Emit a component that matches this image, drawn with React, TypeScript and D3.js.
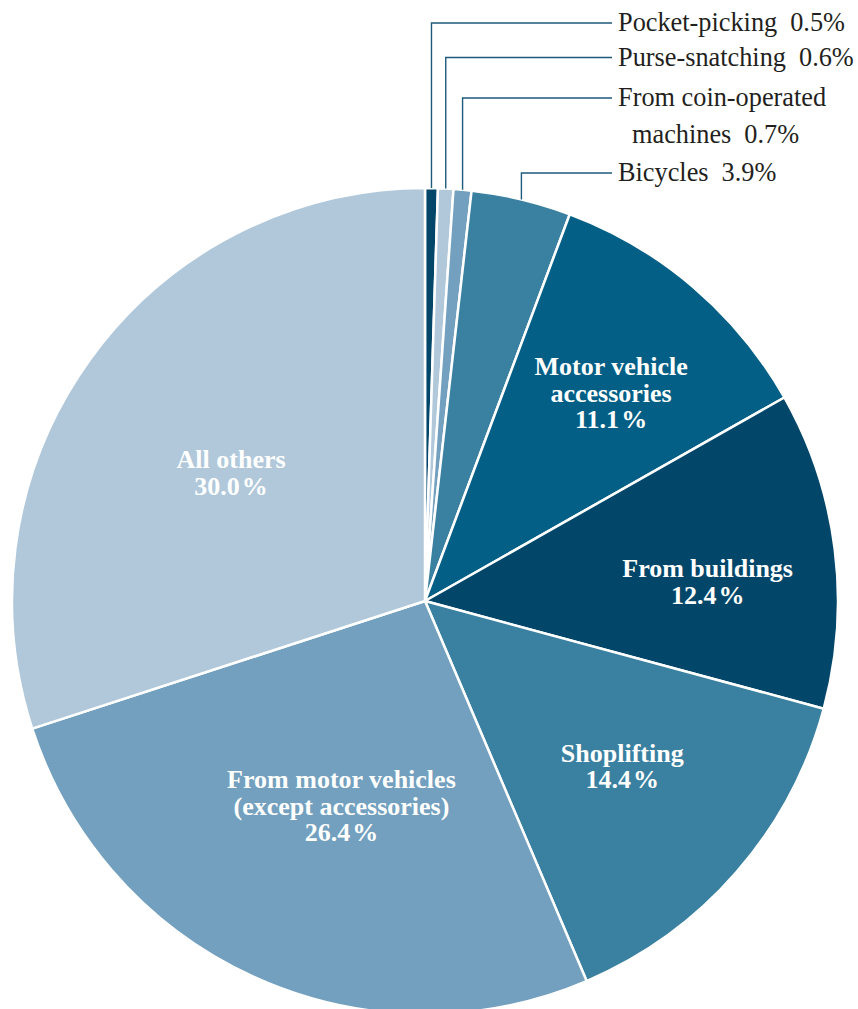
import React from "react";
import * as d3 from "d3";

const categories = [
  "Pocket-picking",
  "Purse-snatching",
  "From coin-operated machines",
  "Bicycles",
  "Motor vehicle accessories",
  "From buildings",
  "Shoplifting",
  "From motor vehicles (except accessories)",
  "All others",
];
const values = [0.5, 0.6, 0.7, 3.9, 11.1, 12.4, 14.4, 26.4, 30.0];
const colors = ["#02476a", "#b0c8da", "#72a0be", "#3a80a0", "#035f85", "#02476a", "#3a80a0", "#72a0be", "#b0c8da"];

// outside labels (small slices): text lines
const outsideLines: Record<number, string[]> = {
  0: ["Pocket-picking"],
  1: ["Purse-snatching"],
  2: ["From coin-operated", "machines"],
  3: ["Bicycles"],
};
// inside labels: text lines
const insideLines: Record<number, string[]> = {
  4: ["Motor vehicle", "accessories"],
  5: ["From buildings"],
  6: ["Shoplifting"],
  7: ["From motor vehicles", "(except accessories)"],
  8: ["All others"],
};
// label placement (layout config)
const insideRadiusFrac: Record<number, number> = { 4: 0.676, 5: 0.686, 6: 0.623, 7: 0.536, 8: 0.563 };
const insideAngleShiftDeg: Record<number, number> = { 4: 1.3, 5: 3.2, 6: -1.1, 7: -2.3, 8: -2.5 };
const outsideLabelY: Record<number, number> = { 0: 23, 1: 57.5, 2: 98, 3: 173 };

const W = 858;
const H = 1009;
const cx = 425;
const cy = 601;
const R = 413;
const lineEndX = 612;
const textX = 618;
const font = "'Liberation Serif', 'Times New Roman', serif";

export default function App() {
  const pie = d3.pie<number>().sort(null).value((d) => d).startAngle(0).endAngle(2 * Math.PI);
  const arcs = pie(values);
  const arcGen = d3.arc<d3.PieArcDatum<number>>().innerRadius(0).outerRadius(R);
  const fmt = (v: number) => v.toFixed(1);

  return (
    <div style={{ position: "absolute", left: 0, top: 0 }}>
      <svg width={W} height={H} style={{ display: "block", background: "#fff" }}>
        <g transform={`translate(${cx},${cy})`}>
          {arcs.map((a, i) => (
            <path key={i} d={arcGen(a) || ""} fill={colors[i]} stroke="#fff" strokeWidth={2.5} strokeLinejoin="round" />
          ))}
          {arcs.map((a, i) => {
            const lines = insideLines[i];
            if (!lines) return null;
            const mid = (a.startAngle + a.endAngle) / 2 + (insideAngleShiftDeg[i] * Math.PI) / 180;
            const r = R * insideRadiusFrac[i];
            const x = r * Math.sin(mid);
            const y = -r * Math.cos(mid);
            const lh = 26.5;
            const n = lines.length + 1;
            const y0 = y - ((n - 1) * lh) / 2 + 9;
            return (
              <text key={"t" + i} textAnchor="middle" fill="#fff" fontFamily={font} fontWeight="bold" fontSize={26}>
                {lines.map((l, j) => (
                  <tspan key={j} x={x} y={y0 + j * lh}>
                    {l}
                  </tspan>
                ))}
                <tspan x={x} y={y0 + lines.length * lh}>
                  {fmt(values[i])}
                  <tspan dx={2}>%</tspan>
                </tspan>
              </text>
            );
          })}
        </g>
        {arcs.map((a, i) => {
          const lines = outsideLines[i];
          if (!lines) return null;
          const mid = (a.startAngle + a.endAngle) / 2;
          const px = cx + R * Math.sin(mid);
          const py = cy - R * Math.cos(mid);
          const ly = outsideLabelY[i];
          const pct = `${fmt(values[i])}%`;
          return (
            <g key={"o" + i}>
              <path
                d={`M${px},${py}V${ly}H${lineEndX}`}
                fill="none"
                stroke="#1d5a7c"
                strokeWidth={1.4}
              />
              <text fontFamily={font} fontSize={26.3} fill="#231f20">
                {lines.length === 1 ? (
                  <tspan x={textX} y={ly + 8}>
                    {lines[0]}
                    <tspan dx={13}>{pct}</tspan>
                  </tspan>
                ) : (
                  <>
                    <tspan x={textX} y={ly + 8}>
                      {lines[0]}
                    </tspan>
                    <tspan x={textX + 14} y={ly + 45}>
                      {lines[1]}
                      <tspan dx={13}>{pct}</tspan>
                    </tspan>
                  </>
                )}
              </text>
            </g>
          );
        })}
      </svg>
    </div>
  );
}
